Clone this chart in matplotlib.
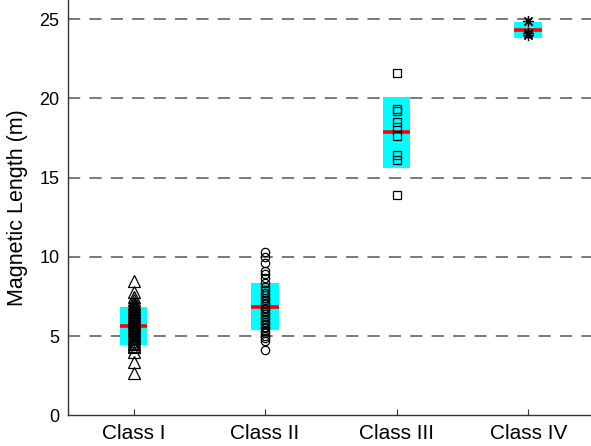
import numpy as np
import matplotlib.pyplot as plt

plt.rcParams['font.family'] = ['Liberation Sans', 'DejaVu Sans']

classes = ['Class I', 'Class II', 'Class III', 'Class IV']

# individual magnetic lengths per class (m)
class1 = [8.5, 7.8, 7.5, 7.3, 7.1, 7.0, 6.9, 6.8, 6.7, 6.6, 6.5, 6.4, 6.3,
          6.2, 6.1, 6.0, 5.9, 5.8, 5.7, 5.6, 5.5, 5.4, 5.3, 5.2, 5.1, 5.0,
          4.9, 4.8, 4.7, 4.6, 4.5, 4.4, 4.3, 4.0, 3.4, 2.7]
class2 = [10.3, 10.0, 9.6, 9.1, 8.9, 8.65, 8.35, 8.1, 7.9, 7.7, 7.6, 7.4,
          7.3, 7.1, 7.0, 6.8, 6.7, 6.5, 6.4, 6.2, 6.1, 5.9, 5.8, 5.6, 5.5,
          5.3, 5.2, 5.0, 4.9, 4.7, 4.1]
class3 = [21.6, 19.3, 19.2, 18.5, 18.2, 17.6, 16.4, 16.1, 13.9]
class4 = [24.9, 24.1, 24.0]

# class mean and standard deviation
means = [5.66, 6.85, 17.85, 24.3]
stds = [1.2, 1.49, 2.22, 0.5]

markers = ['^', 'o', 's', (8, 2, 0)]
msizes = [8.5, 6, 5.5, 8]

fig = plt.figure(figsize=(5.91, 4.46), dpi=100)
ax = fig.add_axes([0.1146, 0.0684, 0.8905, 0.9316])

box_w = 0.21
for i, (vals, m, s) in enumerate(zip([class1, class2, class3, class4], markers, msizes)):
    x = i + 1
    ax.bar(x, 2 * stds[i], bottom=means[i] - stds[i], width=box_w,
           color='#00ffff', edgecolor='none', zorder=2)
    ax.plot([x - box_w / 2, x + box_w / 2], [means[i], means[i]],
            color='red', lw=2.6, solid_capstyle='butt', zorder=3)
    ax.plot(np.full(len(vals), x), vals, linestyle='none', marker=m,
            markersize=s, markerfacecolor='none', markeredgecolor='black',
            markeredgewidth=0.9, zorder=4)

for yv in [5, 10, 15, 20, 25]:
    ax.axhline(yv, color='#555555', lw=1.1, dashes=(8, 6), zorder=1)

ax.set_xlim(0.5, 4.5)
ax.set_ylim(0, 26.2)
ax.set_xticks([1, 2, 3, 4])
ax.set_xticklabels(classes, fontsize=15)
ax.set_yticks([0, 5, 10, 15, 20, 25])
ax.tick_params(axis='y', labelsize=13, direction='in', length=0, pad=6)
ax.tick_params(axis='x', direction='in', length=4, pad=6, color='#333333')
ax.set_ylabel('Magnetic Length (m)', fontsize=15.5, labelpad=8)

for side in ['top', 'right']:
    ax.spines[side].set_visible(False)
for side in ['left', 'bottom']:
    ax.spines[side].set_color('#333333')
    ax.spines[side].set_linewidth(1.0)

fig.savefig('out.png', dpi=100)
